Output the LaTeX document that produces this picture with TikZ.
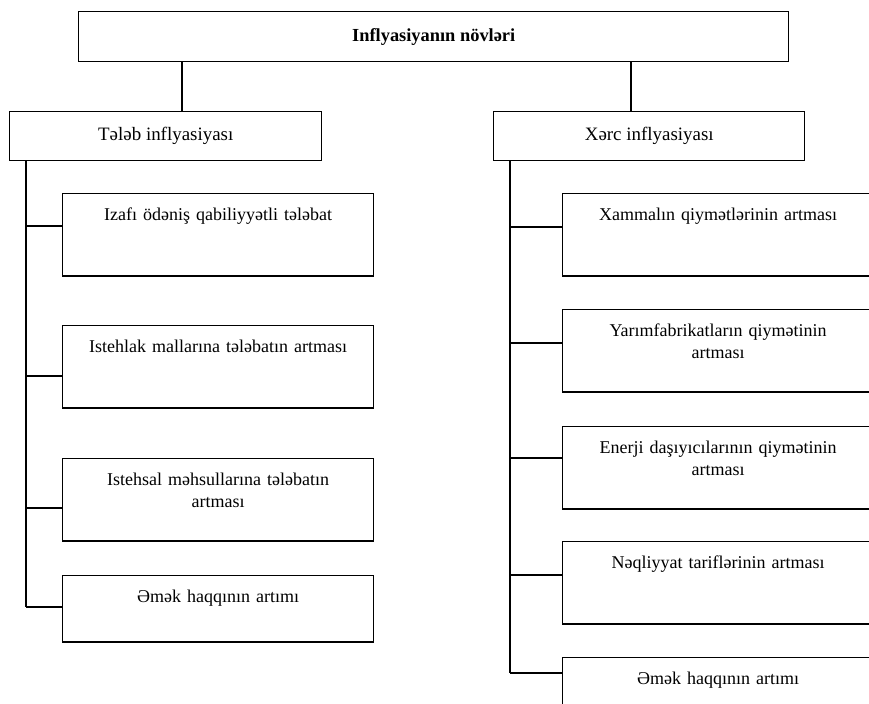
\documentclass[tikz,border=0pt]{standalone}
\usepackage{fontspec}
\setmainfont{Liberation Serif}

\begin{document}
\begin{tikzpicture}[x=0.75pt,y=-0.75pt,line width=1.1pt,
        main/.style = {draw, rectangle, anchor=north west, inner sep=0pt, font=\fontsize{14.2}{17}\selectfont},
        sub/.style = {draw, rectangle, anchor=north west, text width=225pt, align=center,
            inner xsep=4pt, inner ysep=11.4pt, text height=9pt, text depth=30pt,
            font=\fontsize{13.5}{16.5}\selectfont}]
        \useasboundingbox (0,0) rectangle (869,704);
        \clip (0,0) rectangle (869,704);
        % top level
        \node[main, minimum width=532.5pt, minimum height=37.5pt, font=\fontsize{13.8}{16}\selectfont\bfseries] (0) at (78,11) {Inflyasiyanın növləri};
        \node[main, minimum width=234pt, minimum height=36.75pt] (1) at (9,111) {Tələb inflyasiyası};
        \node[main, minimum width=233.25pt, minimum height=36.75pt] (2) at (493,111) {Xərc inflyasiyası};
        % left column
        \node[sub] (11) at (62,193) {Izafı ödəniş qabiliyyətli tələbat};
        \node[sub] (12) at (62,325) {Istehlak mallarına tələbatın artması};
        \node[sub] (13) at (62,458) {Istehsal məhsullarına tələbatın\\artması};
        \node[sub, text depth=18pt] (14) at (62,575) {Əmək haqqının artımı};
        % right column
        \node[sub] (21) at (562,193) {Xammalın qiymətlərinin artması};
        \node[sub] (22) at (562,309) {Yarımfabrikatların qiymətinin\\artması};
        \node[sub] (23) at (562,426) {Enerji daşıyıcılarının qiymətinin\\artması};
        \node[sub] (24) at (562,541) {Nəqliyyat tariflərinin artması};
        \node[sub] (25) at (562,657) {Əmək haqqının artımı};

        \coordinate (a) at (182,0);
        \coordinate (b) at (631,0);
        \draw (0.south -| a) -- (1.north -| a);
        \draw (0.south -| b) -- (2.north -| b);

        % spines
        \coordinate (ls) at (26,607);
        \coordinate (rs) at (510,673);
        \draw (1.south -| ls) -- (ls);
        \draw (2.south -| rs) -- (rs);
        \foreach \n/\y in {11/226, 12/376, 13/508, 14/607}{
            \coordinate (k) at (0,\y);
            \draw (ls |- k) -- (\n.west |- k);
        }
        \foreach \n/\y in {21/227, 22/343, 23/458, 24/575, 25/673}{
            \coordinate (k) at (0,\y);
            \draw (rs |- k) -- (\n.west |- k);
        }
\end{tikzpicture}
\end{document}
